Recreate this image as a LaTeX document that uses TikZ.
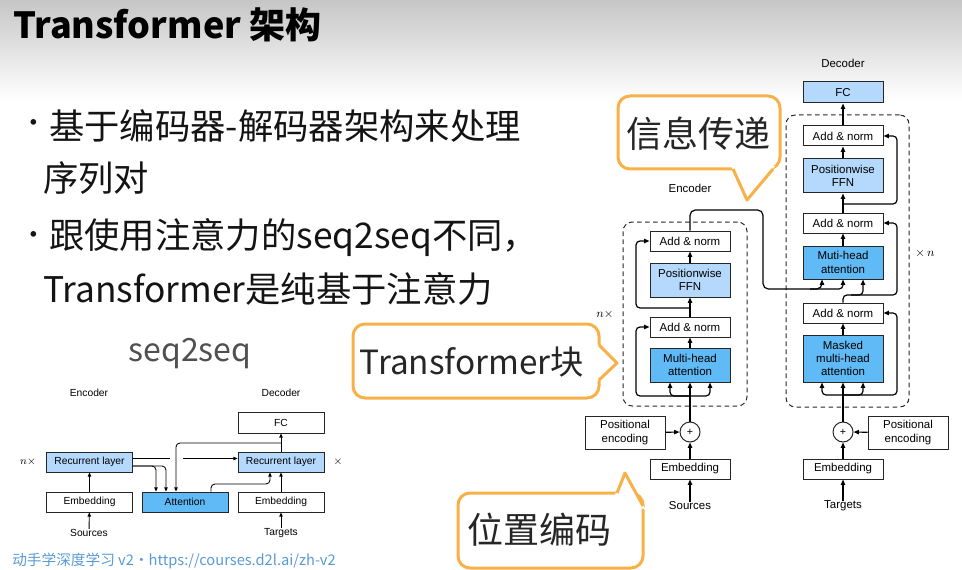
\documentclass[tikz,border=0pt]{standalone}
\usepackage{fontspec}
\setmainfont{Noto Sans CJK SC}
\newfontfamily\labelfont{Liberation Sans}
\usetikzlibrary{arrows.meta,calc}

\definecolor{lightblue}{RGB}{180,217,252}
\definecolor{midblue}{RGB}{96,186,246}
\definecolor{calloutorange}{RGB}{248,177,72}
\definecolor{footblue}{RGB}{88,155,210}
\definecolor{bandgray}{RGB}{198,198,198}
\definecolor{inkgray}{RGB}{80,80,80}

\begin{document}
\begin{tikzpicture}[x=0.75pt,y=-0.75pt,
  tbox/.style={draw=black!85, line width=0.75pt, minimum width=60pt, minimum height=15pt,
    inner sep=0pt, align=center, fill=white, font=\labelfont\fontsize{8.6}{10}\selectfont},
  sbox/.style={draw=black!85, line width=0.6pt, minimum width=65pt, minimum height=15pt,
    inner sep=0pt, align=center, fill=white, font=\labelfont\fontsize{7.7}{9}\selectfont},
  lbl/.style={inner sep=0pt, font=\labelfont\fontsize{8.6}{10}\selectfont},
  slbl/.style={inner sep=0pt, font=\labelfont\fontsize{7.7}{9}\selectfont},
  plusnode/.style={circle, draw=black!85, line width=0.75pt, minimum size=15pt, inner sep=0pt,
    fill=white, font=\labelfont\fontsize{8}{8}\selectfont},
  block/.style={draw=black!85, dashed, dash pattern=on 3.5pt off 2.5pt, line width=0.75pt,
    rounded corners=7pt, inner sep=0pt},
  arr/.style={-{Triangle[length=4pt,width=3.2pt]}, line width=0.9pt},
  line/.style={line width=0.9pt},
  sarr/.style={-{Triangle[length=3.2pt,width=2.6pt]}, line width=0.65pt},
  sline/.style={line width=0.65pt},
  rc/.style={rounded corners=3pt},
  co/.style={draw=calloutorange, line width=2.25pt, line join=round},
  cotext/.style={inner sep=0pt, text=black!85, font=\fontsize{27}{30}\selectfont},
  bullettext/.style={anchor=west, inner sep=0pt, text=black!92, font=\fontsize{26.5}{30}\selectfont},
  dot/.style={inner sep=0pt, text=black!92, font=\fontsize{20}{20}\selectfont}
]
\useasboundingbox (0,0) rectangle (962,570);

% slide header band
\shade[top color=bandgray, bottom color=white] (0,0) rectangle (962,100);

% title
\node[anchor=west, inner sep=0pt, font=\bfseries\fontsize{27}{32}\selectfont] (title) at (13,25) {Transformer 架构};

% bullet list
\node[dot] (b1) at (34,126) {•};
\node[bullettext] (t1) at (49,126) {基于编码器-解码器架构来处理};
\node[bullettext] (t2) at (43,178) {序列对};
\node[dot] (b2) at (34,238) {•};
\node[bullettext] (t3) at (49,238) {跟使用注意力的seq2seq不同，};
\node[bullettext] (t4) at (43,289) {Transformer是纯基于注意力};

% seq2seq heading
\node[inner sep=0pt, text=inkgray, font=\fontsize{24}{28}\selectfont] (s2s) at (190,354) {seq2seq};

% ---------------- seq2seq with attention ----------------
\node[slbl] (encS) at (89,393) {Encoder};
\node[slbl] (decS) at (281,393) {Decoder};
\node[sbox, minimum width=64.5pt, minimum height=15.75pt] (fcS) at (281,422.5) {FC};
\node[sbox, fill=lightblue] (recE) at (89.5,462) {Recurrent layer};
\node[sbox, fill=lightblue, minimum width=64.5pt] (recD) at (281,462) {Recurrent layer};
\node[sbox] (embSE) at (89.5,502) {Embedding};
\node[sbox, fill=midblue, minimum width=64.5pt] (attn) at (185,502) {Attention};
\node[sbox, minimum width=64.5pt] (embSD) at (281,502) {Embedding};
\node[slbl] (srcS) at (89,533) {Sources};
\node[slbl] (tgtS) at (281,533) {Targets};
\node[slbl] (nS) at (28,462) {$n\times$};
\node[slbl] (xS) at (338,462) {$\times$};

\draw[sarr] (srcS) -- (embSE);
\draw[sarr] (embSE) -- (recE);
\draw[sarr] (tgtS) -- (embSD);
\draw[sarr] (embSD) -- (recD);
\draw[sarr] (recD) -- (fcS);
\coordinate (gapL) at (170,458.5);
\coordinate (gapR) at (183,458.5);
\draw[sline] ($(recE.east)+(0,-3.5)$) -- (gapL);
\draw[sarr] (gapR) -- ($(recD.west)+(0,-3.5)$);
\draw[sarr, rc] ($(recE.east)+(0,4)$) -| ($(attn.north)+(-29,0)$);
\draw[sarr, rc] ($(recE.east)+(0,4)$) -| ($(attn.north)+(-19,0)$);
\coordinate (qS) at (281,443);
\draw[sarr, rc] (qS) -| ($(attn.north)+(-9,0)$);
\coordinate (ctxS) at (211,484);
\draw[sarr, rc] ($(attn.north)+(26,0)$) -- (ctxS) -| ($(recD.south)+(-11,0)$);

% ---------------- Transformer ----------------
\node[block, minimum width=93pt, minimum height=138pt] (encBlock) at (685,314) {};
\node[block, minimum width=92.25pt, minimum height=219pt] (decBlock) at (847.5,261) {};

% encoder
\node[lbl] (encL) at (690,188) {Encoder};
\node[tbox] (addE2) at (690,241) {Add \& norm};
\node[tbox, fill=lightblue, minimum height=25.5pt] (ffnE) at (690,280) {Positionwise\\FFN};
\node[tbox] (addE1) at (690,327) {Add \& norm};
\node[tbox, fill=midblue, minimum height=25.5pt] (mhaE) at (690,365) {Multi-head\\attention};
\node[tbox, minimum height=24.75pt] (peE) at (625,432.5) {Positional\\encoding};
\node[plusnode] (plusE) at (690,432) {+};
\node[tbox] (embE) at (690,469) {Embedding};
\node[lbl] (srcE) at (690,506) {Sources};
\node[lbl] (nE) at (605,314) {$n\times$};

% decoder
\node[lbl] (decL) at (843,63) {Decoder};
\node[tbox, fill=lightblue, minimum height=15.75pt] (fc) at (843,92.5) {FC};
\node[tbox] (addD3) at (843,136) {Add \& norm};
\node[tbox, fill=lightblue, minimum height=25.5pt] (ffnD) at (843,176) {Positionwise\\FFN};
\node[tbox] (addD2) at (843,223) {Add \& norm};
\node[tbox, fill=midblue, minimum height=24.75pt] (mhaD) at (843,262.5) {Muti-head\\attention};
\node[tbox] (addD1) at (843,313) {Add \& norm};
\node[tbox, fill=midblue, minimum height=35.25pt] (mmhaD) at (843,358.5) {Masked\\multi-head\\attention};
\node[plusnode] (plusD) at (843,432) {+};
\node[tbox, minimum height=24.75pt] (peD) at (908,432.5) {Positional\\encoding};
\node[tbox] (embD) at (843,469) {Embedding};
\node[lbl] (tgtD) at (843,506) {Targets};
\node[lbl] (nD) at (925,253) {$\times\,n$};

% encoder connections
\draw[arr] (srcE) -- (embE);
\draw[arr] (embE) -- (plusE);
\draw[arr] (peE) -- (plusE);
\draw[arr] (plusE) -- (mhaE);
\coordinate (jE1) at (690,396);
\coordinate (resE1) at (636,396);
\draw[arr, rc] (jE1) -| ($(mhaE.south)+(-20,0)$);
\draw[arr, rc] (jE1) -| ($(mhaE.south)+(20,0)$);
\draw[arr, rc] (jE1) -- (resE1) |- (addE1.west);
\draw[arr] (mhaE) -- (addE1);
\draw[arr] (addE1) -- (ffnE);
\coordinate (jE2) at (690,308);
\coordinate (resE2) at (636,308);
\draw[arr, rc] (jE2) -- (resE2) |- (addE2.west);
\draw[arr] (ffnE) -- (addE2);

% encoder output into the decoder attention
\coordinate (encUp) at (690,210);
\coordinate (encRight) at (763,210);
\coordinate (encDown) at (763,289);
\coordinate (encJ) at (810,289);
\draw[arr, rounded corners=4pt] (addE2.north) -- (encUp) -- (encRight) -- (encDown) -| ($(mhaD.south)+(-21,0)$);
\draw[arr, rc] (encJ) -| (mhaD.south);

% decoder connections
\draw[arr] (tgtD) -- (embD);
\draw[arr] (embD) -- (plusD);
\draw[arr] (peD) -- (plusD);
\draw[arr] (plusD) -- (mmhaD);
\coordinate (jD1) at (843,395);
\coordinate (resD1) at (897,395);
\draw[arr, rc] (jD1) -| ($(mmhaD.south)+(-21,0)$);
\draw[arr, rc] (jD1) -| ($(mmhaD.south)+(20,0)$);
\draw[arr, rc] (jD1) -- (resD1) |- (addD1.east);
\draw[arr] (mmhaD) -- (addD1);
\coordinate (jD2) at (843,295);
\coordinate (jD2b) at (851,295);
\coordinate (resD2) at (897,295);
\draw[arr, rc] (addD1.north) -- (jD2) -- (resD2) |- (addD2.east);
\draw[arr, rc] (jD2b) -| ($(mhaD.south)+(20,0)$);
\draw[arr] (mhaD) -- (addD2);
\coordinate (jD3) at (843,204);
\coordinate (resD3) at (897,204);
\draw[arr, rc] (jD3) -- (resD3) |- (addD3.east);
\draw[arr] (addD2) -- (ffnD);
\draw[arr] (ffnD) -- (addD3);
\draw[arr] (addD3) -- (fc);

% ---------------- callouts ----------------
% information flow
\draw[co, fill=white, rounded corners=9pt] (618,96) rectangle (780,169);
\fill[white] (731,166) -- (747,200) -- (775,166) -- cycle;
\draw[co] (733,169) -- (747,200) -- (773,169);
\node[cotext] (cInfo) at (698,134) {信息传递};

% transformer block
\draw[co, fill=white, rounded corners=9pt] (353,324) rectangle (599,398);
\fill[white] (596,343) -- (617,363) -- (596,382) -- cycle;
\draw[co] (599,345) -- (617,363) -- (599,380);
\node[cotext, font=\fontsize{25}{28}\selectfont] (cBlock) at (472,362) {Transformer块};

% positional encoding
\draw[co, fill=white, rounded corners=9pt] (458,493) rectangle (643,568);
\fill[white] (614,497) -- (625,473) -- (646,510) -- cycle;
\draw[co] (617,493) -- (625,473) -- (643,506);
\node[cotext] (cPos) at (539,530) {位置编码};

% footer
\node[anchor=west, inner sep=0pt, text=footblue, font=\fontsize{11}{13}\selectfont] (foot) at (12,561) {动手学深度学习 v2・https://courses.d2l.ai/zh-v2};

\end{tikzpicture}
\end{document}
